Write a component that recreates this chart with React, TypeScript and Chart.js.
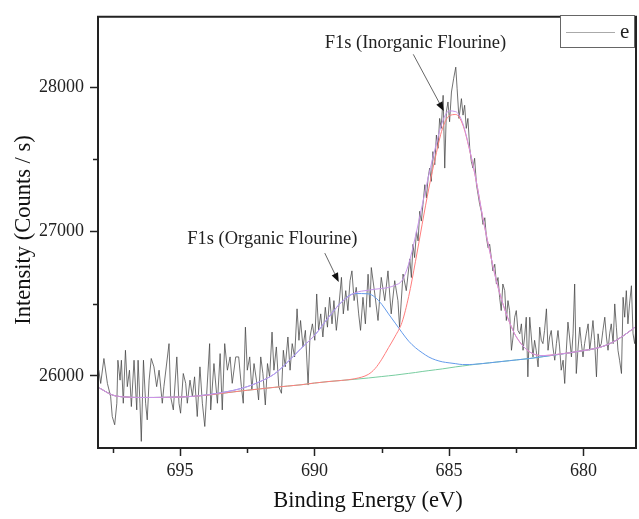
import React, { useEffect, useRef } from 'react';
import { Chart, registerables } from 'chart.js';

Chart.register(...registerables);

// ---- Measured spectrum (Binding energy, eV / Counts per s) ----
const spectrumEnergy = [
  698.02, 697.95, 697.83, 697.70, 697.58, 697.52, 697.43, 697.35, 697.31, 697.23, 697.18, 697.11, 697.03, 696.96, 696.88, 696.81,
  696.71, 696.61, 696.56, 696.49, 696.44, 696.36, 696.28, 696.22, 696.15, 696.07, 695.97, 695.87, 695.78, 695.66, 695.60, 695.41,
  695.35, 695.25, 695.12, 695.04, 694.98, 694.88, 694.79, 694.73, 694.63, 694.54, 694.46, 694.36, 694.26, 694.17, 694.08, 693.90,
  693.86, 693.74, 693.61, 693.51, 693.43, 693.34, 693.24, 693.14, 693.06, 692.93,
  692.82, 692.72, 692.65, 692.57, 692.50, 692.41, 692.33, 692.25, 692.16, 692.08, 692.00, 691.92, 691.83, 691.75, 691.67, 691.58,
  691.51, 691.42, 691.33, 691.23, 691.16, 691.09, 690.99, 690.91, 690.83, 690.74, 690.65, 690.58, 690.52, 690.43, 690.34, 690.24,
  690.17, 690.08, 689.99, 689.92, 689.85, 689.77, 689.69, 689.60, 689.52, 689.44, 689.35, 689.28, 689.19, 689.10, 689.00, 688.93,
  688.84, 688.76, 688.68, 688.61, 688.53, 688.45, 688.36, 688.29, 688.20, 688.11, 688.01, 687.94,
  687.89, 687.76, 687.64, 687.52, 687.39, 687.27, 687.15, 687.02, 686.90, 686.84, 686.71, 686.59, 686.46, 686.40, 686.34, 686.28,
  686.21, 686.15, 686.09, 686.03, 685.97, 685.90, 685.84, 685.78, 685.72, 685.66, 685.60, 685.53, 685.47, 685.41, 685.35, 685.29,
  685.22, 685.16, 685.10, 685.04, 684.98, 684.91, 684.83, 684.75, 684.70, 684.63, 684.54, 684.48, 684.42, 684.36, 684.30, 684.23,
  684.17, 684.11, 684.05, 683.98, 683.92, 683.86, 683.80, 683.74, 683.67, 683.61, 683.55, 683.49, 683.43, 683.37, 683.30, 683.24,
  683.18, 683.12, 683.06,
  683.00, 682.93, 682.87, 682.81, 682.75, 682.68, 682.62, 682.56, 682.50, 682.44, 682.37, 682.31, 682.25, 682.19, 682.13, 682.07,
  682.00, 681.94, 681.88, 681.82, 681.76, 681.69, 681.63, 681.57, 681.51, 681.45, 681.38, 681.32, 681.26, 681.20, 681.14, 681.07,
  681.01, 680.95, 680.89, 680.83, 680.76, 680.70, 680.64, 680.58, 680.52, 680.45, 680.39, 680.33, 680.27, 680.21, 680.14, 680.08,
  680.02, 679.96, 679.90, 679.83, 679.77, 679.71, 679.65, 679.59, 679.52, 679.46, 679.40, 679.34, 679.28, 679.21, 679.15, 679.09,
  679.03, 678.97, 678.90, 678.84, 678.78, 678.72, 678.66, 678.59, 678.53, 678.47, 678.41, 678.35, 678.29, 678.22, 678.16, 678.10,
  678.04,
];
const spectrumCounts = [
  26040, 25947, 26120, 25947, 25856, 25718, 25661, 25810, 26108, 25970, 26108, 25810, 26177, 25925, 26039, 25787,
  26108, 25764, 26108, 25810, 25546, 26108, 25810, 25695, 25970, 26120, 26062, 25925, 26039, 25810, 25925, 26223,
  25856, 25764, 26131, 25810, 25741, 26016, 25948, 25810, 25970, 25856, 25993, 25718, 26062, 25810, 25649, 26223,
  25764, 26085, 25810, 26154, 25764, 26223, 26039, 26131, 25948, 26131,
  26131, 25925, 25810, 26337, 26039, 26131, 25902, 26085, 25970, 25833, 26131, 26016, 25798, 26085, 25993, 26303,
  26039, 26200, 25925, 25879, 26177, 26062, 26269, 26039, 26223, 26131, 26464, 26246, 26383, 26200, 26315, 25936,
  26269, 26360, 26246, 26567, 26315, 26429, 26269, 26475, 26337, 26544, 26360, 26521, 26315, 26475, 26682, 26429,
  26590, 26452, 26659, 26727, 26521, 26613, 26429, 26315, 26544, 26360, 26704, 26475,
  26750, 26567, 26383, 26682, 26521, 26727, 26429, 26659, 26521, 26338, 26705, 26590, 26810, 26681, 26911, 26819,
  27003, 26934, 27140, 27072, 27186, 27324, 27232, 27370, 27439, 27347, 27553, 27462, 27668, 27576, 27783, 27714,
  27943, 27439, 27829, 27897, 27760, 27966, 28058, 28138, 27989, 27783, 27920, 27806, 27874, 27714, 27783, 27576,
  27484, 27439, 27507, 27324, 27255, 27186, 27140, 27049, 27095, 26957, 26888, 26911, 26819, 26727, 26773, 26636,
  26681, 26544, 26452,
  26636, 26590, 26383, 26521, 26452, 26177, 26269, 26406, 26452, 26314, 26291, 26360, 26177, 26269, 26406, 25993,
  26406, 26269, 26131, 26246, 26177, 26062, 26337, 26246, 26223, 26314, 26464, 26177, 26269, 26314, 26200, 26108,
  26223, 26314, 26200, 26039, 26108, 25947, 26177, 26372, 26269, 26131, 26291, 26636, 26016, 26177, 26337, 26223,
  26131, 26223, 26291, 26360, 26177, 26269, 26383, 26246, 25993, 26291, 26200, 26223, 26314, 26406, 26269, 26177,
  26291, 26360, 26223, 26498, 26337, 26177, 26108, 26016, 26544, 26406, 26590, 26360, 26498, 26624, 26291, 26223,
  26360,
];

// ---- Peak fit curves, read at these energies ----
const fitEnergy = [
  698, 697.5, 697, 696.5, 696, 695.5, 695, 694.5, 694, 693.5, 693, 692.5, 692, 691.5, 691, 690.5, 690, 689.5, 689, 688.5, 688,
  687.75, 687.5, 687.25, 687, 686.75, 686.5, 686.25, 686, 685.75, 685.5, 685.25, 685, 684.75, 684.5, 684.25, 684, 683.75, 683.5,
  683.25, 683, 682.75, 682.5, 682, 681.5, 681, 680.5, 680, 679.5, 679, 678.5, 678,
];
const baselineFit = [
  25916, 25866, 25853, 25850, 25850, 25851, 25853, 25858, 25866, 25877, 25889, 25900, 25910, 25920, 25929, 25938, 25950, 25960, 25968, 25976, 25985,
  25990, 25995, 26000, 26005, 26011, 26017, 26023, 26030, 26036, 26042, 26048, 26055, 26062, 26068, 26074, 26080, 26085, 26090,
  26095, 26100, 26105, 26110, 26120, 26133, 26146, 26160, 26175, 26192, 26225, 26280, 26349,
];
const organicFit = [
  25916, 25866, 25853, 25850, 25850, 25851, 25853, 25858, 25868, 25882, 25900, 25925, 25962, 26012, 26095, 26190, 26280, 26400, 26510, 26570, 26568,
  26544, 26495, 26429, 26365, 26300, 26240, 26195, 26160, 26130, 26110, 26097, 26090, 26084, 26078, 26078, 26081, 26085, 26090,
  26095, 26100, 26105, 26110, 26120, 26133, 26146, 26160, 26175, 26192, 26225, 26280, 26349,
];
const inorganicFit = [
  25916, 25866, 25853, 25850, 25850, 25851, 25853, 25858, 25866, 25877, 25889, 25900, 25910, 25920, 25929, 25938, 25950, 25960, 25968, 25980, 26010,
  26050, 26115, 26195, 26275, 26370, 26550, 26790, 27050, 27300, 27520, 27710, 27800, 27810, 27745, 27575, 27360, 27100, 26875,
  26665, 26500, 26370, 26270, 26165, 26140, 26148, 26160, 26175, 26192, 26225, 26280, 26349,
];
const envelopeFit = [
  25916, 25866, 25853, 25850, 25850, 25851, 25853, 25858, 25868, 25882, 25900, 25925, 25962, 26012, 26095, 26190, 26280, 26400, 26510, 26574, 26593,
  26600, 26605, 26612, 26628, 26660, 26775, 26965, 27180, 27394, 27588, 27758, 27835, 27830, 27755, 27579, 27361, 27101, 26875,
  26665, 26500, 26370, 26270, 26165, 26140, 26148, 26160, 26175, 26192, 26225, 26280, 26349,
];

// ---- Axis ticks ----
const xMajorTicks = [680, 685, 690, 695];
const xMinorTicks = [682.5, 687.5, 692.5, 697.5];
const yMajorTicks = [26000, 27000, 28000];
const yMinorTicks = [26500, 27500];

const SERIF = "'Liberation Serif', 'DejaVu Serif', serif";
const INK = '#222222';

function toPoints(xs: number[], ys: number[]) {
  return xs.map((x, i) => ({ x, y: ys[i] }));
}

function drawArrow(ctx: CanvasRenderingContext2D, x1: number, y1: number, x2: number, y2: number) {
  const ang = Math.atan2(y2 - y1, x2 - x1);
  const len = 9;
  const half = 3.5;
  const bx = x2 - len * Math.cos(ang);
  const by = y2 - len * Math.sin(ang);
  ctx.strokeStyle = '#555';
  ctx.lineWidth = 0.9;
  ctx.beginPath();
  ctx.moveTo(x1, y1);
  ctx.lineTo(bx, by);
  ctx.stroke();
  ctx.fillStyle = '#111';
  ctx.beginPath();
  ctx.moveTo(x2, y2);
  ctx.lineTo(bx + half * Math.sin(ang), by - half * Math.cos(ang));
  ctx.lineTo(bx - half * Math.sin(ang), by + half * Math.cos(ang));
  ctx.closePath();
  ctx.fill();
}

const decorPlugin = {
  id: 'decor',
  afterDraw(chart: any) {
    const ctx: CanvasRenderingContext2D = chart.ctx;
    const { left, right, top, bottom } = chart.chartArea;
    const xs = chart.scales.x;
    const ys = chart.scales.y;
    ctx.save();

    // frame (top & right)
    ctx.strokeStyle = INK;
    ctx.lineWidth = 2;
    ctx.beginPath();
    ctx.moveTo(left - 1, top);
    ctx.lineTo(right, top);
    ctx.lineTo(right, bottom + 1);
    ctx.stroke();

    // minor ticks
    ctx.lineWidth = 1.5;
    ctx.beginPath();
    xMinorTicks.forEach((v) => {
      const px = Math.round(xs.getPixelForValue(v)) + 0.5;
      ctx.moveTo(px, bottom);
      ctx.lineTo(px, bottom + 5);
    });
    yMinorTicks.forEach((v) => {
      const py = Math.round(ys.getPixelForValue(v)) + 0.5;
      ctx.moveTo(left, py);
      ctx.lineTo(left - 5, py);
    });
    ctx.stroke();

    // legend
    ctx.fillStyle = '#fff';
    ctx.fillRect(560.5, 15.5, 74, 32);
    ctx.strokeStyle = '#666';
    ctx.lineWidth = 1;
    ctx.strokeRect(560.5, 15.5, 74, 32);
    ctx.strokeStyle = '#aaa';
    ctx.beginPath();
    ctx.moveTo(566, 32.5);
    ctx.lineTo(615, 32.5);
    ctx.stroke();
    ctx.fillStyle = INK;
    ctx.font = `21px ${SERIF}`;
    ctx.textAlign = 'left';
    ctx.textBaseline = 'alphabetic';
    ctx.fillText('e', 620, 38);

    // annotations
    ctx.font = `18.5px ${SERIF}`;
    ctx.textAlign = 'center';
    ctx.textBaseline = 'middle';
    ctx.fillStyle = INK;
    ctx.fillText('F1s (Inorganic Flourine)', xs.getPixelForValue(686.25), ys.getPixelForValue(28303));
    ctx.fillText('F1s (Organic Flourine)', xs.getPixelForValue(691.57), ys.getPixelForValue(26947));
    drawArrow(ctx, xs.getPixelForValue(686.33), ys.getPixelForValue(28227), xs.getPixelForValue(685.2), ys.getPixelForValue(27835));
    drawArrow(ctx, xs.getPixelForValue(689.62), ys.getPixelForValue(26850), xs.getPixelForValue(689.1), ys.getPixelForValue(26650));

    // axis titles
    ctx.font = `22.5px ${SERIF}`;
    ctx.textAlign = 'center';
    ctx.textBaseline = 'alphabetic';
    ctx.fillText('Binding Energy (eV)', 368, 507);
    ctx.save();
    ctx.translate(30, 230);
    ctx.rotate(-Math.PI / 2);
    ctx.fillText('Intensity (Counts / s)', 0, 0);
    ctx.restore();

    ctx.restore();
  },
};

export default function App() {
  const canvasRef = useRef<HTMLCanvasElement | null>(null);

  useEffect(() => {
    const canvas = canvasRef.current;
    if (!canvas) return;
    const chart = new Chart(canvas, {
      type: 'line',
      data: {
        datasets: [
          {
            label: 'envelope',
            data: toPoints(fitEnergy, envelopeFit),
            borderColor: 'rgb(200,150,235)',
            borderWidth: 1,
            pointRadius: 0,
            cubicInterpolationMode: 'monotone',
            order: 1,
          },
          {
            label: 'inorganic',
            data: toPoints(fitEnergy, inorganicFit),
            borderColor: 'rgb(255,125,125)',
            borderWidth: 1,
            pointRadius: 0,
            cubicInterpolationMode: 'monotone',
            order: 2,
          },
          {
            label: 'organic',
            data: toPoints(fitEnergy, organicFit),
            borderColor: 'rgb(100,155,235)',
            borderWidth: 1,
            pointRadius: 0,
            cubicInterpolationMode: 'monotone',
            order: 3,
          },
          {
            label: 'baseline',
            data: toPoints(fitEnergy, baselineFit),
            borderColor: 'rgb(120,205,160)',
            borderWidth: 1,
            pointRadius: 0,
            cubicInterpolationMode: 'monotone',
            order: 4,
          },
          {
            label: 'e',
            data: toPoints(spectrumEnergy, spectrumCounts),
            borderColor: 'rgba(70,70,70,0.85)',
            borderWidth: 0.9,
            pointRadius: 0,
            tension: 0,
            order: 5,
          },
        ],
      },
      options: {
        animation: false,
        responsive: false,
        devicePixelRatio: 1,
        layout: { padding: { top: 14, right: 3, left: 0, bottom: 0 } },
        plugins: { legend: { display: false }, tooltip: { enabled: false } },
        scales: {
          x: {
            type: 'linear',
            reverse: true,
            min: 678.05,
            max: 698.05,
            afterBuildTicks: (scale: any) => {
              scale.ticks = xMajorTicks.map((v) => ({ value: v }));
            },
            afterFit: (scale: any) => {
              scale.height = 71;
            },
            ticks: {
              autoSkip: false,
              maxRotation: 0,
              padding: 4,
              color: INK,
              font: { family: SERIF, size: 18 },
              callback: (v: any) => String(v),
            },
            grid: {
              display: true,
              drawOnChartArea: false,
              drawTicks: true,
              tickLength: 8,
              tickColor: INK,
              tickWidth: 1.5,
            },
            border: { display: true, color: INK, width: 2 },
          },
          y: {
            type: 'linear',
            min: 25500,
            max: 28487,
            afterBuildTicks: (scale: any) => {
              scale.ticks = yMajorTicks.map((v) => ({ value: v }));
            },
            afterFit: (scale: any) => {
              scale.width = 98;
            },
            ticks: {
              autoSkip: false,
              padding: 6,
              color: INK,
              font: { family: SERIF, size: 18 },
              callback: (v: any) => String(v),
            },
            grid: {
              display: true,
              drawOnChartArea: false,
              drawTicks: true,
              tickLength: 8,
              tickColor: INK,
              tickWidth: 1.5,
            },
            border: { display: true, color: INK, width: 2 },
          },
        },
      },
      plugins: [decorPlugin],
    });
    return () => chart.destroy();
  }, []);

  return (
    <div style={{ position: 'fixed', left: 0, top: 0, width: 639, height: 519, background: '#fff' }}>
      <canvas ref={canvasRef} width={639} height={519} style={{ display: 'block' }} />
    </div>
  );
}
